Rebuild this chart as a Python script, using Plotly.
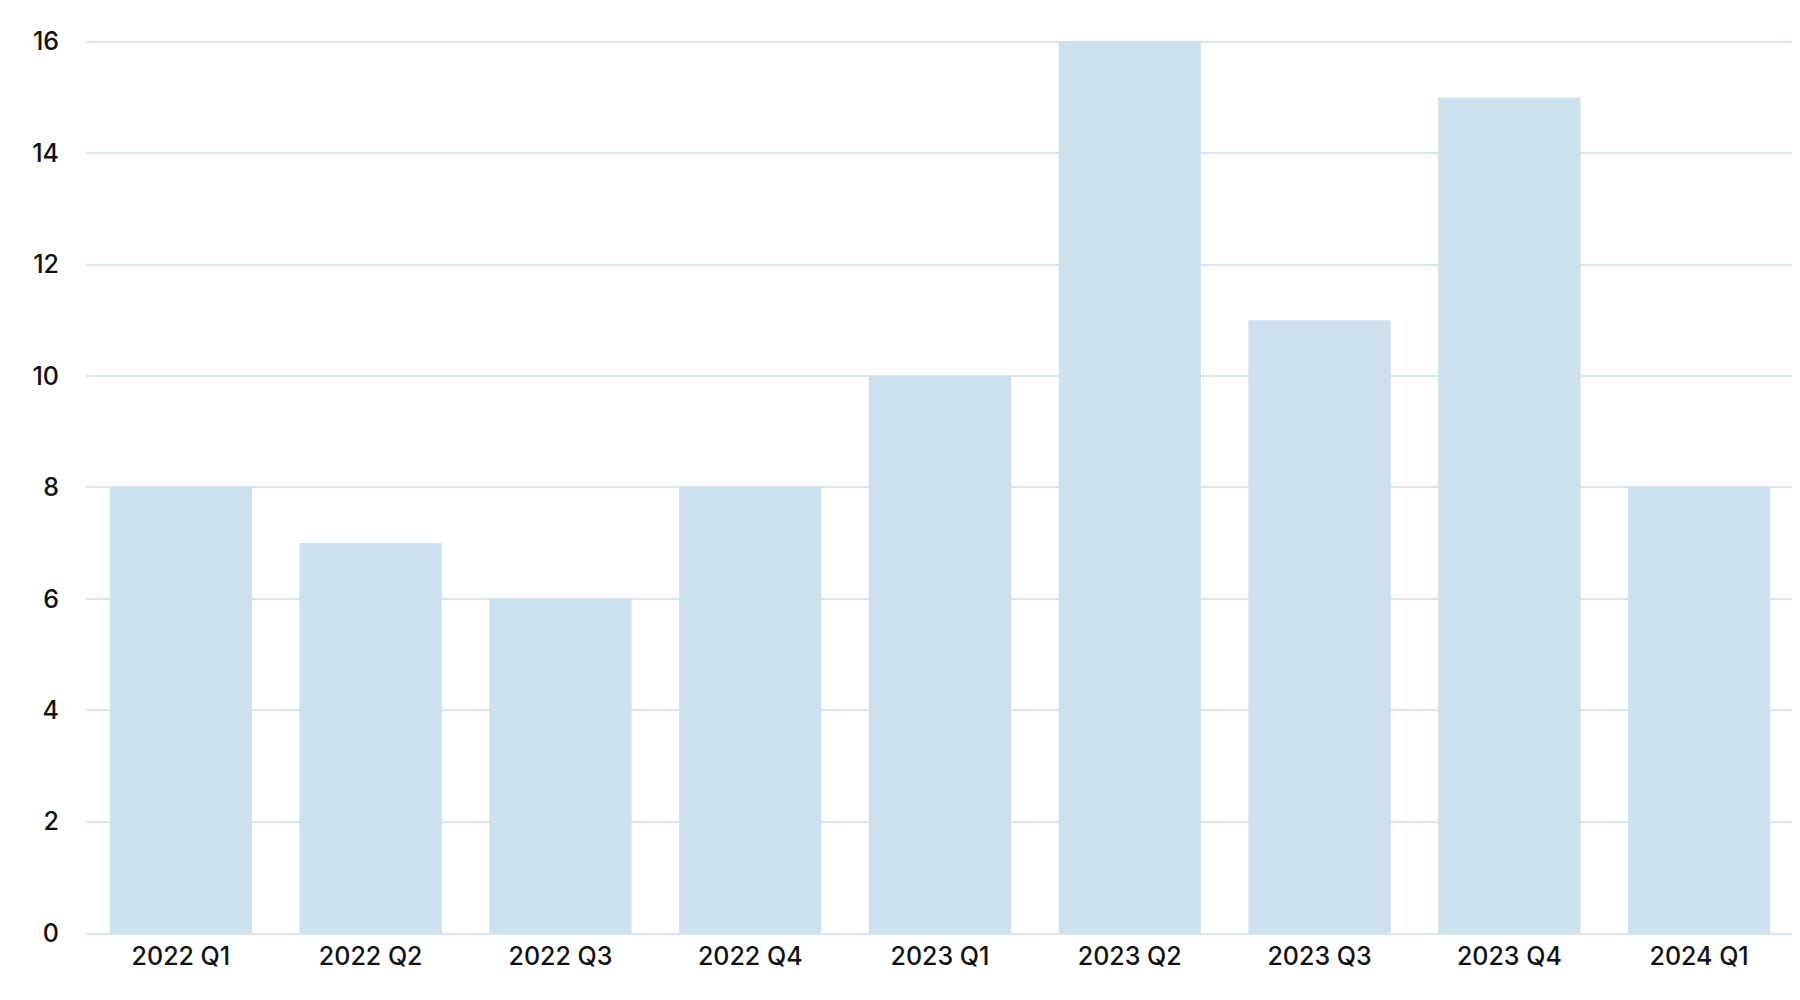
import plotly.graph_objects as go

quarters = ["2022 Q1", "2022 Q2", "2022 Q3", "2022 Q4", "2023 Q1",
            "2023 Q2", "2023 Q3", "2023 Q4", "2024 Q1"]
values = [8, 7, 6, 8, 10, 16, 11, 15, 8]
y_ticks = [0, 2, 4, 6, 8, 10, 12, 14, 16]

fig = go.Figure(go.Bar(x=quarters, y=values, marker=dict(color="#cde0ed", line=dict(width=0))))

fig.update_layout(
    width=1800, height=1000,
    margin=dict(l=78, r=14, t=32, b=75),
    plot_bgcolor="white", paper_bgcolor="white",
    bargap=0.25,
    showlegend=False,
    font=dict(family="Inter", size=25, color="#111111", weight=500),
)
fig.update_xaxes(showgrid=False, showline=True, linecolor="#d6e6ef", linewidth=2,
                 ticks="", tickfont=dict(size=25, weight=500))
fig.update_yaxes(range=[0, 16.03], tickvals=y_ticks, showgrid=True, gridcolor="#d6e6ef",
                 gridwidth=2, zeroline=False, ticks="", ticklabelstandoff=26,
                 tickfont=dict(size=25, weight=500))

fig.write_html("out.html")
